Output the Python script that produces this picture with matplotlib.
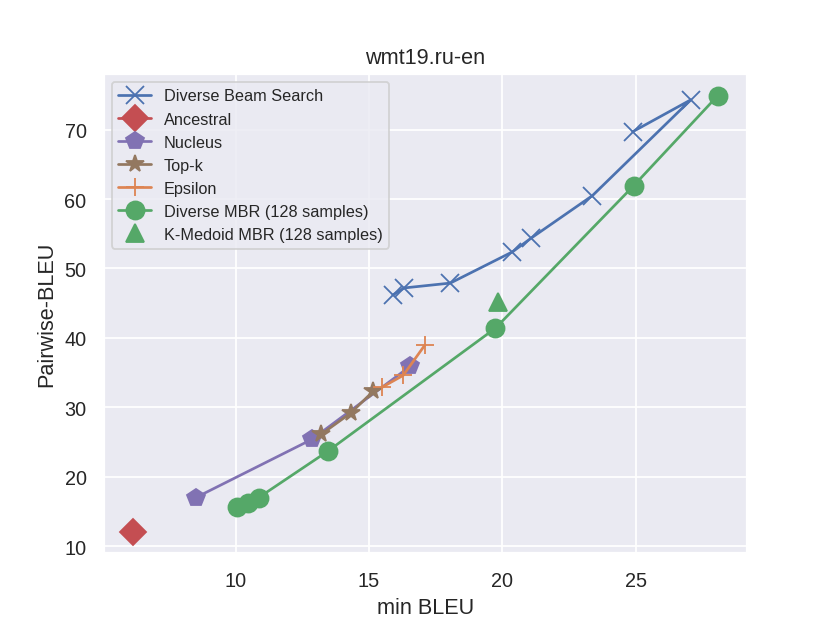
import numpy as np
import matplotlib
matplotlib.use("Agg")
import matplotlib.pyplot as plt
import seaborn as sns

sns.set_theme(style="darkgrid", context="notebook")
plt.rcParams["font.family"] = ["Liberation Sans", "DejaVu Sans"]

# data (min BLEU, Pairwise-BLEU)
dbs_x = [24.89, 27.07, 23.38, 21.09, 20.38, 18.05, 16.32, 15.90]
dbs_y = [69.7, 74.3, 60.5, 54.4, 52.4, 47.9, 47.2, 46.2]

anc_x = [6.15]
anc_y = [12.1]

nuc_x = [8.50, 12.86, 16.54]
nuc_y = [17.0, 25.4, 35.9]

topk_x = [13.20, 14.32, 15.15]
topk_y = [26.1, 29.2, 32.3]

eps_x = [15.49, 16.28, 17.10]
eps_y = [32.9, 34.6, 39.0]

mbr_x = [10.04, 10.45, 10.86, 13.46, 19.74, 24.92, 28.08]
mbr_y = [15.6, 16.3, 17.0, 23.7, 41.4, 61.9, 74.9]

kmed_x = [19.85]
kmed_y = [45.2]

pal = sns.color_palette()

fig, ax = plt.subplots(figsize=(6.385, 4.792), dpi=130)

ms = 10
ax.plot(dbs_x, dbs_y, marker="x", color=pal[0], markersize=ms, label="Diverse Beam Search")
ax.plot(anc_x, anc_y, marker="D", color=pal[3], markersize=ms, label="Ancestral")
ax.plot(nuc_x, nuc_y, marker="p", color=pal[4], markersize=ms, label="Nucleus")
ax.plot(topk_x, topk_y, marker="*", color=pal[5], markersize=ms, label="Top-k")
ax.plot(eps_x, eps_y, marker="+", color=pal[1], markersize=ms, label="Epsilon")
ax.plot(mbr_x, mbr_y, marker="o", color=pal[2], markersize=ms, label="Diverse MBR (128 samples)")
ax.plot(kmed_x, kmed_y, marker="^", color=pal[2], markersize=ms, linestyle="none",
        label="K-Medoid MBR (128 samples)")

ax.set_xlabel("min BLEU")
ax.set_ylabel("Pairwise-BLEU")
ax.set_title("wmt19.ru-en")
ax.legend(loc="upper left", fontsize=9)

fig.savefig("out.png")
